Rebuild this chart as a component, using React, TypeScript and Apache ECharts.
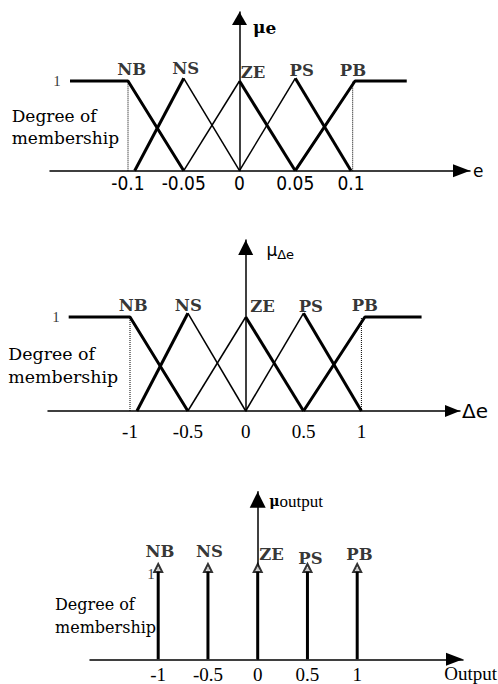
import React, { useEffect, useRef } from "react";
import * as echarts from "echarts";

// ---------- data ----------
const NAMES = ["NB", "NS", "ZE", "PS", "PB"];

// Panel 1 : error e
const E_TICKS = [-0.1, -0.05, 0, 0.05, 0.1];
const E_NB = [[-0.152, 1], [-0.1, 1], [-0.05, 0]];
const E_NS_L = [[-0.094, 0], [-0.05, 1.03]];
const E_NS_R = [[-0.05, 1.03], [0, 0]];
const E_ZE_L = [[-0.05, 0], [0, 1]];
const E_ZE_R = [[0, 1], [0.05, 0]];
const E_PS_L = [[0, 0], [0.05, 1.03]];
const E_PS_R = [[0.05, 1.03], [0.1, 0]];
const E_PB = [[0.05, 0], [0.1036, 1], [0.15, 1]];
const E_BOUNDS = [-0.1, 0.1015];
const E_PEAKS = [[-0.1, 1], [-0.05, 1.03], [0, 1], [0.05, 1.03], [0.1036, 1]];

// Panel 2 : change of error Δe
const D_TICKS = [-1, -0.5, 0, 0.5, 1];
const D_NB = [[-1.53, 1], [-1, 1], [-0.5, 0]];
const D_NS_L = [[-0.94, 0], [-0.5, 1.04]];
const D_NS_R = [[-0.5, 1.04], [0, 0]];
const D_ZE_L = [[-0.5, 0], [0, 1]];
const D_ZE_R = [[0, 1], [0.5, 0]];
const D_PS_L = [[0, 0], [0.5, 1.04]];
const D_PS_R = [[0.5, 1.04], [1, 0]];
const D_PB = [[0.5, 0], [1.03, 1], [1.52, 1]];
const D_BOUNDS = [-1, 1];
const D_PEAKS = [[-1, 1], [-0.5, 1.04], [0, 1], [0.5, 1.04], [1.03, 1]];

// Panel 3 : output singletons
const O_TICKS = [-1, -0.5, 0, 0.5, 1];
const O_CENTERS = [-1, -0.5, 0, 0.5, 1];
const O_HEIGHT = 1;

// ---------- styles / layout ----------
const SERIF_B = "'DejaVu Serif', 'Liberation Serif', serif";
const TIMES = "'Liberation Serif', serif";
const SANS = "'DejaVu Sans', 'Liberation Sans', sans-serif";
const SANS_NARROW = "'DejaVu Sans Condensed', 'DejaVu Sans', sans-serif";
const THICK = 3;
const THIN = 1.5;

const PANELS = [
  { left: 50, right: 470, top: 12, axisY: 170.7, zeroX: 239.5, unitX: 1115, unitY: 89.7, xArrow: [13, 17], yArrow: [15, 13] },
  { left: 48, right: 460, top: 240, axisY: 411, zeroX: 245.7, unitX: 115.7, unitY: 94, xArrow: [12, 15], yArrow: [15, 15] },
  { left: 90, right: 463, top: 491.7, axisY: 659.3, zeroX: 257.7, unitX: 99.5, unitY: 91.3, xArrow: [13, 17], yArrow: [16, 16] },
];

function buildOption() {
  const grids: any[] = [];
  const xAxes: any[] = [];
  const yAxes: any[] = [];
  const tickCfg = [
    { values: E_TICKS, font: SANS_NARROW, size: 19, margin: 2.3 },
    { values: D_TICKS, font: TIMES, size: 19, margin: 10.5 },
    { values: O_TICKS, font: TIMES, size: 19, margin: 5.2 },
  ];
  const xNames = [
    { name: "e", gap: 3, style: { fontFamily: SANS, fontSize: 17, color: "#000" } },
    { name: "Δe", gap: 2, style: { fontFamily: SANS, fontSize: 20, color: "#000", padding: [6, 0, 0, 0] } },
    {
      name: "Output",
      gap: 34,
      style: { fontFamily: TIMES, fontSize: 19, color: "#000", align: "right", verticalAlign: "top", lineHeight: 14, padding: [7.2, 0, 0, 0] },
    },
  ];
  const yNames = [
    {
      name: "{mu|μ}{sub|e}",
      gap: -15,
      style: {
        align: "left", verticalAlign: "middle", padding: [0, 0, 0, 13.5],
        rich: {
          mu: { fontFamily: SERIF_B, fontWeight: "bold", fontSize: 17, lineHeight: 18, color: "#000" },
          sub: { fontFamily: SERIF_B, fontWeight: "bold", fontSize: 17, lineHeight: 16, verticalAlign: "bottom", color: "#000" },
        },
      },
    },
    {
      name: "{mu|μ}{sub|Δe}",
      gap: -10,
      style: {
        align: "left", verticalAlign: "middle", padding: [0, 0, 0, 20.7],
        rich: {
          mu: { fontFamily: SANS, fontSize: 17, lineHeight: 22, color: "#000" },
          sub: { fontFamily: SANS, fontSize: 13, lineHeight: 13, verticalAlign: "bottom", color: "#000" },
        },
      },
    },
    {
      name: "{mu|μ}{sub|output}",
      gap: -9.3,
      style: {
        align: "left", verticalAlign: "middle", padding: [0, 0, 0, 11.6],
        rich: {
          mu: { fontFamily: SERIF_B, fontWeight: "bold", fontSize: 14, lineHeight: 18, color: "#000" },
          sub: { fontFamily: TIMES, fontSize: 17, lineHeight: 15, verticalAlign: "bottom", color: "#000" },
        },
      },
    },
  ];

  PANELS.forEach((p, i) => {
    grids.push({
      left: p.left,
      top: p.top,
      width: p.right - p.left,
      height: p.axisY - p.top,
      containLabel: false,
      outerBoundsMode: "none",
    });
    const tc = tickCfg[i];
    xAxes.push({
      type: "value",
      gridIndex: i,
      min: (p.left - p.zeroX) / p.unitX,
      max: (p.right - p.zeroX) / p.unitX,
      axisLine: {
        show: true,
        lineStyle: { color: "#000", width: 1.5 },
        symbol: ["none", "triangle"],
        symbolSize: p.xArrow,
        symbolOffset: [0, -p.xArrow[1] / 2],
      },
      axisTick: { show: false },
      splitLine: { show: false },
      axisLabel: {
        customValues: tc.values,
        formatter: (v: number) => String(v),
        fontFamily: tc.font,
        fontSize: tc.size,
        lineHeight: tc.size,
        margin: tc.margin,
        color: "#000",
      },
      name: xNames[i].name,
      nameLocation: "end",
      nameGap: xNames[i].gap,
      nameTextStyle: xNames[i].style,
    });
    yAxes.push({
      type: "value",
      gridIndex: i,
      min: 0,
      max: (p.axisY - p.top) / p.unitY,
      axisLine: {
        show: true,
        onZero: true,
        lineStyle: { color: "#000", width: 1.5 },
        symbol: ["none", "triangle"],
        symbolSize: p.yArrow,
        symbolOffset: [0, -p.yArrow[1] / 2],
      },
      axisTick: { show: false },
      axisLabel: { show: false },
      splitLine: { show: false },
      name: yNames[i].name,
      nameLocation: "end",
      nameGap: yNames[i].gap,
      nameTextStyle: yNames[i].style,
    });
  });

  const line = (data: number[][], idx: number, width: number, type: string = "solid") => ({
    type: "line",
    xAxisIndex: idx,
    yAxisIndex: idx,
    data,
    showSymbol: false,
    symbol: "none",
    silent: true,
    lineStyle: { color: "#000", width, type },
    z: 3,
  });

  const vertical = (x: number, h: number) => [[x, 0], [x, h]];

  const labels = (idx: number, peaks: number[][], offsets: number[][], oneAt: number[], oneOffset: number[]) => ({
    type: "scatter",
    xAxisIndex: idx,
    yAxisIndex: idx,
    symbolSize: 1,
    silent: true,
    itemStyle: { color: "rgba(0,0,0,0)" },
    label: {
      show: true,
      position: "inside",
      formatter: "{b}",
      color: "#000",
      fontFamily: SERIF_B,
      fontWeight: "bold",
      fontSize: 16.5,
    },
    data: [
      ...peaks.map((pt, k) => ({ value: pt, name: NAMES[k], label: { offset: offsets[k], color: "#000" } })),
      {
        value: oneAt,
        name: "1",
        label: { offset: oneOffset, color: "#000", fontFamily: TIMES, fontWeight: "normal", fontSize: 15 },
      },
    ],
    z: 6,
  });

  const series: any[] = [];
  // panel 1
  [E_NB, E_NS_L, E_ZE_R, E_PS_R, E_PB].forEach((d) => series.push(line(d, 0, THICK)));
  [E_NS_R, E_ZE_L, E_PS_L].forEach((d) => series.push(line(d, 0, THIN)));
  E_BOUNDS.forEach((b) => series.push(line(vertical(b, 1), 0, 1, "dotted")));
  series.push(labels(0, E_PEAKS, [[3.7, -12], [2, -10.3], [13.5, -9], [6.5, -8.3], [-2, -11]], E_NB[0], [-13, 0]));
  // panel 2
  [D_NB, D_NS_L, D_ZE_R, D_PS_R, D_PB].forEach((d) => series.push(line(d, 1, THICK)));
  [D_NS_R, D_ZE_L, D_PS_L].forEach((d) => series.push(line(d, 1, THIN)));
  D_BOUNDS.forEach((b) => series.push(line(vertical(b, 1), 1, 1, "dotted")));
  series.push(labels(1, D_PEAKS, [[3.3, -11.2], [0.5, -7.4], [16.8, -10.3], [7.3, -6.7], [0, -11.2]], D_NB[0], [-12.8, 0]));
  // panel 3
  O_CENTERS.forEach((c) => series.push(line(vertical(c, O_HEIGHT), 2, THICK)));
  series.push({
    type: "scatter",
    xAxisIndex: 2,
    yAxisIndex: 2,
    symbol: "emptyTriangle",
    symbolSize: 8,
    silent: true,
    itemStyle: { color: "#000", borderWidth: 1.5 },
    data: O_CENTERS.map((c) => [c, O_HEIGHT]),
    z: 5,
  });
  series.push(
    labels(
      2,
      O_CENTERS.map((c) => [c, O_HEIGHT]),
      [[1.7, -16.5], [1.5, -16.5], [13.8, -14], [3, -10], [2.3, -14]],
      [O_CENTERS[0], O_HEIGHT],
      [-7.3, 6]
    )
  );

  const membership = (x: number, y: number, size: number, lh: number) => ({
    type: "text",
    x,
    y,
    silent: true,
    style: {
      text: "Degree of\nmembership",
      font: `${size}px 'DejaVu Serif'`,
      lineHeight: lh,
      fill: "#000",
      align: "left",
      verticalAlign: "middle",
    },
  });

  return {
    animation: false,
    backgroundColor: "#fff",
    grid: grids,
    xAxis: xAxes,
    yAxis: yAxes,
    series,
    graphic: [membership(11.7, 127, 17, 22.6), membership(8.3, 365.7, 17.4, 23.3), membership(55, 615.8, 16, 23.3)],
  };
}

export default function App() {
  const ref = useRef<HTMLDivElement>(null);
  useEffect(() => {
    if (!ref.current) return;
    const chart = echarts.init(ref.current, undefined, { renderer: "svg" });
    chart.setOption(buildOption() as any);
    return () => chart.dispose();
  }, []);
  return (
    <div
      ref={ref}
      style={{ position: "fixed", left: 0, top: 0, width: 498, height: 684, background: "#fff" }}
    />
  );
}
